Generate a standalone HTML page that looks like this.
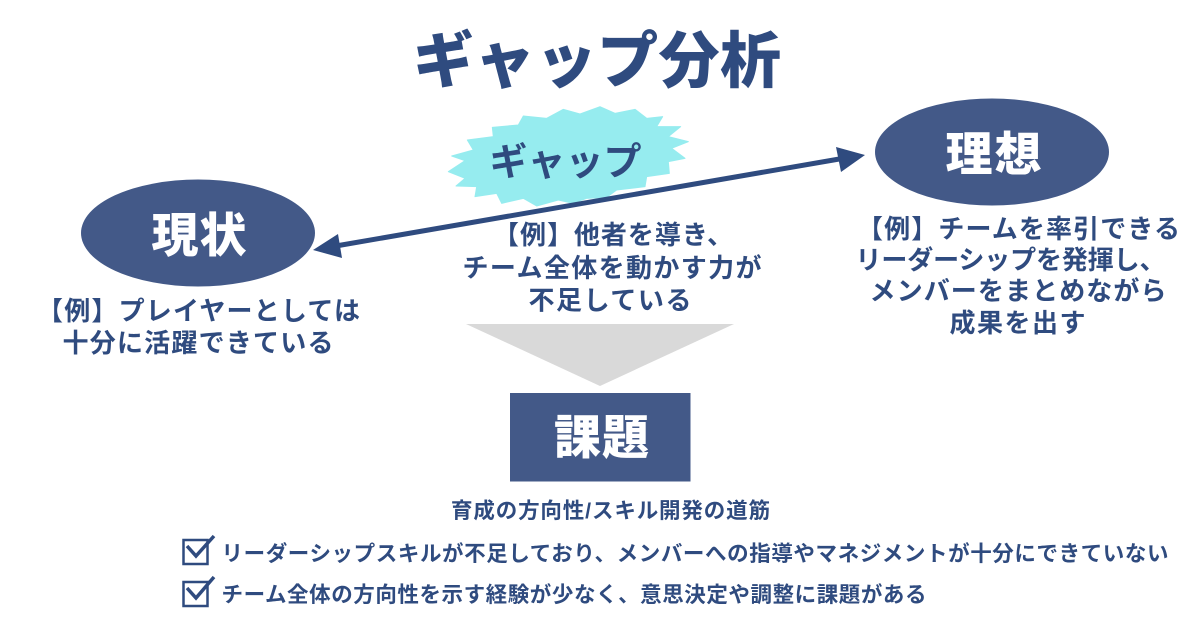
<!DOCTYPE html>
<html lang="ja"><head><meta charset="utf-8"><style>
html,body{margin:0;padding:0;background:#fff}
svg{display:block}
text{font-family:"Liberation Sans","Noto Sans CJK JP",sans-serif;font-weight:700;fill:#2f4b7f}
.w{fill:#fff;font-weight:900}
.b{font-weight:700;font-size:26px}
.s{font-weight:700;font-size:21.500px}
</style></head><body>
<svg width="1200" height="628" viewBox="0 0 1200 628" xmlns="http://www.w3.org/2000/svg">
<rect width="1200" height="628" fill="#fff"/>
<text x="413" y="82" font-size="61" textLength="368" style="font-weight:900">ギャップ分析</text>
<polygon transform="translate(430 90) scale(.33333)" fill="#96ecef" stroke="#96ecef" stroke-width="3" stroke-linejoin="round" points="55,245 105,212 65,198 130,180 112,150 190,140 187,112 265,105 280,78 350,85 400,58 450,72 510,50 555,70 615,58 650,85 698,80 680,110 752,110 715,140 775,155 725,175 765,205 715,215 718,250 650,260 645,290 560,300 530,322 470,325 430,340 385,330 320,348 280,325 215,340 200,310 135,320 140,290 78,288 105,265"/>
<text x="489.500" y="175" font-size="38" textLength="152">ギャップ</text>
<ellipse cx="198" cy="233" rx="117" ry="53.500" fill="#435988"/>
<ellipse cx="992" cy="152" rx="117" ry="53.500" fill="#435988"/>
<line x1="330" y1="247" x2="848" y2="157.500" stroke="#2f4b7f" stroke-width="5"/>
<polygon points="865,155 841,172 836,147" fill="#2f4b7f"/>
<polygon points="313,250 338,234 342,258" fill="#2f4b7f"/>
<text x="151.500" y="252" class="w" font-size="47" textLength="95">現状</text>
<text x="945.500" y="171" class="w" font-size="47" textLength="96">理想</text>
<text x="37" y="320" class="b" textLength="323">【例】プレイヤーとしては</text>
<text x="62.500" y="352" class="b" textLength="271">十分に活躍できている</text>
<text x="857" y="238" class="b" textLength="323">【例】チームを率引できる</text>
<text x="855.500" y="269" class="b" textLength="310">リーダーシップを発揮し、</text>
<text x="869.500" y="300" class="b" textLength="297">メンバーをまとめながら</text>
<text x="949.500" y="332" class="b" textLength="136">成果を出す</text>
<text x="493" y="244" class="b" textLength="240">【例】他者を導き、</text>
<text x="462.500" y="277" class="b" textLength="299">チーム全体を動かす力が</text>
<text x="528.500" y="309.500" class="b" textLength="163">不足している</text>
<polygon points="466,324 734,324 600,386" fill="#d9d9d9"/>
<rect x="510" y="393" width="180.500" height="88.500" fill="#435988"/>
<text x="554" y="454" class="w" font-size="47" textLength="95">課題</text>
<text x="451" y="518" class="s" textLength="319">育成の方向性/スキル開発の道筋</text>
<g fill="none" stroke="#2f4b7f">
<rect x="183.500" y="540" width="24" height="24" stroke-width="2.500"/>
<path d="M187 546 L196 556 L214 536" stroke-width="3.500"/>
<rect x="183.500" y="582" width="24" height="24" stroke-width="2.500"/>
<path d="M187 588 L196 598 L214 577" stroke-width="3.500"/>
</g>
<text x="221.500" y="561" class="s" textLength="947">リーダーシップスキルが不足しており、メンバーへの指導やマネジメントが十分にできていない</text>
<text x="221.500" y="602" class="s" textLength="705">チーム全体の方向性を示す経験が少なく、意思決定や調整に課題がある</text>
</svg>
</body></html>
